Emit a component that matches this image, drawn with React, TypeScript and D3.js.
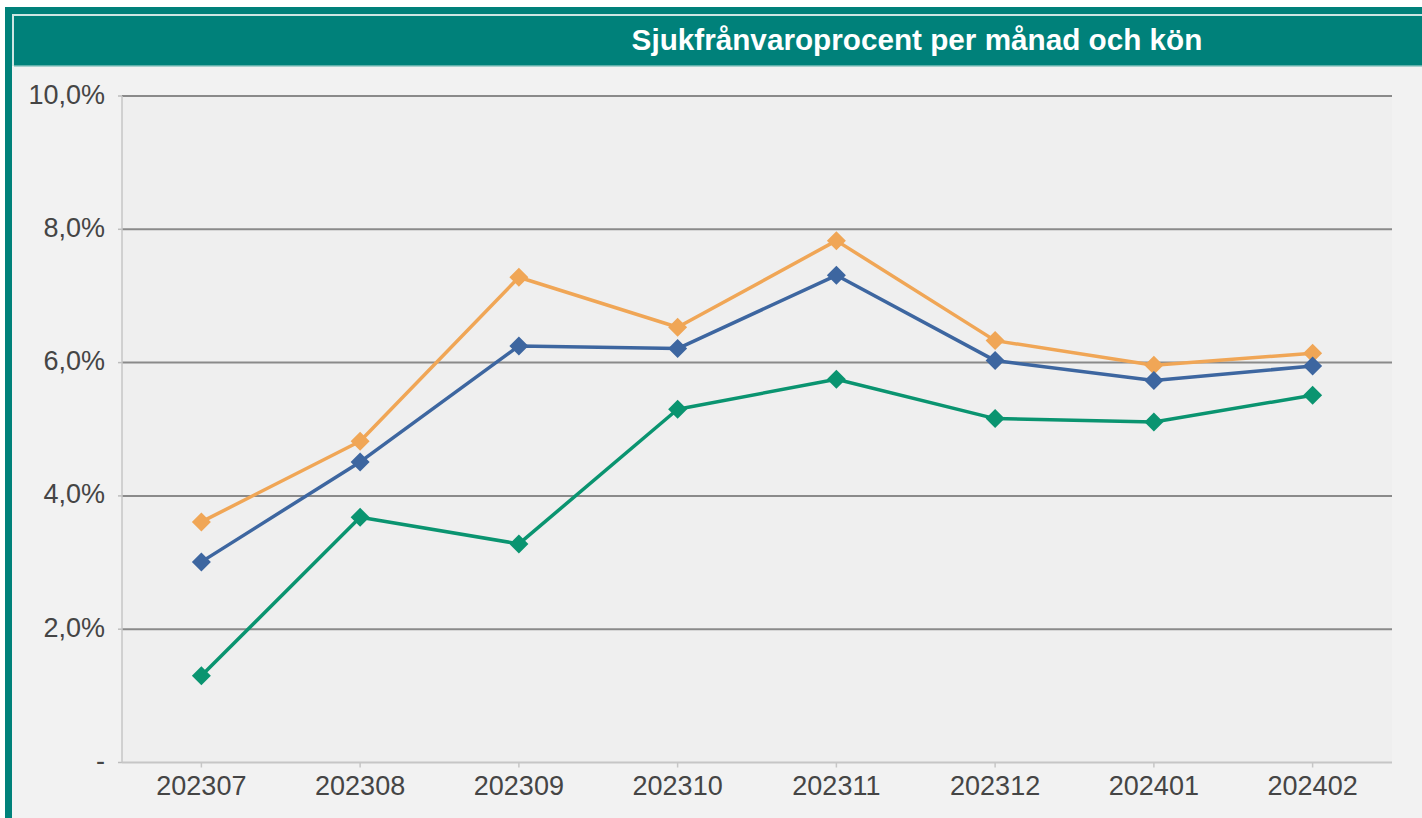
import React from "react";
import * as d3 from "d3";

const months = ["202307", "202308", "202309", "202310", "202311", "202312", "202401", "202402"];
const womenValues = [3.61, 4.82, 7.28, 6.53, 7.83, 6.33, 5.96, 6.14];
const totalValues = [3.01, 4.51, 6.25, 6.21, 7.31, 6.03, 5.73, 5.95];
const menValues = [1.3, 3.68, 3.28, 5.3, 5.75, 5.16, 5.11, 5.51];
const yTicks = [0, 2, 4, 6, 8, 10];
const title = "Sjukfrånvaroprocent per månad och kön";

const series = [
  { name: "Kvinnor", values: womenValues, color: "#f0a656" },
  { name: "Totalt", values: totalValues, color: "#3d66a0" },
  { name: "Män", values: menValues, color: "#0a9470" },
];

const W = 1422;
const H = 818;
const plot = { left: 122, right: 1392, top: 96, bottom: 762.5 };

export default function App() {
  const x = d3.scaleBand<string>().domain(months).range([plot.left, plot.right]);
  const y = d3.scaleLinear().domain([0, 10]).range([plot.bottom, plot.top]);
  const cx = (m: string) => (x(m) as number) + x.bandwidth() / 2;
  const line = d3
    .line<number>()
    .x((_, i) => cx(months[i]))
    .y((v) => y(v));
  const fmt = (v: number) => (v === 0 ? "-" : v.toFixed(1).replace(".", ",") + "%");
  const diamond = (px: number, py: number, r: number) =>
    `M${px},${py - r}L${px + r},${py}L${px},${py + r}L${px - r},${py}Z`;

  return (
    <svg
      width={W}
      height={H}
      style={{ position: "fixed", left: 0, top: 0, display: "block" }}
      fontFamily="'Liberation Sans', Arial, sans-serif"
    >
      <rect x={0} y={0} width={W} height={H} fill="#ffffff" />
      {/* outer frame */}
      <rect x={5} y={7} width={W - 5} height={H - 7} fill="#00817a" />
      <rect x={12} y={14} width={W - 12} height={H - 14} fill="#cfe6e3" />
      <rect x={12} y={66} width={W - 12} height={H - 66} fill="#f2f2f2" />
      {/* header */}
      <rect x={14} y={16} width={W - 14} height={50} fill="#00817a" />
      <rect x={14} y={65} width={W - 14} height={1.5} fill="#5fb0aa" />
      <text
        x={917}
        y={50}
        textAnchor="middle"
        fill="#ffffff"
        fontSize={29.7}
        fontWeight="bold"
      >
        {title}
      </text>
      {/* plot area */}
      <rect
        x={plot.left}
        y={plot.top}
        width={plot.right - plot.left}
        height={plot.bottom - plot.top}
        fill="#efefef"
      />
      {yTicks.map((t) => (
        <g key={t}>
          {t > 0 && (
            <line
              x1={plot.left}
              x2={plot.right}
              y1={y(t)}
              y2={y(t)}
              stroke="#8a8a8a"
              strokeWidth={2}
            />
          )}
          <line x1={plot.left - 4} x2={plot.left} y1={y(t)} y2={y(t)} stroke="#bdbdbd" strokeWidth={1.5} />
          <text
            x={105}
            y={y(t)}
            dy="0.28em"
            textAnchor="end"
            fill="#454545"
            fontSize={27}
          >
            {fmt(t)}
          </text>
        </g>
      ))}
      {/* axes */}
      <line x1={plot.left} x2={plot.left} y1={plot.top} y2={plot.bottom} stroke="#c6c6c6" strokeWidth={1.5} />
      <line x1={plot.left} x2={plot.right} y1={plot.bottom} y2={plot.bottom} stroke="#c6c6c6" strokeWidth={2} />
      {months.map((m) => (
        <g key={m}>
          <line x1={cx(m)} x2={cx(m)} y1={plot.bottom} y2={plot.bottom + 5} stroke="#c6c6c6" strokeWidth={1.5} />
          <text x={cx(m)} y={795} textAnchor="middle" fill="#454545" fontSize={27}>
            {m}
          </text>
        </g>
      ))}
      {/* series */}
      {series.map((s) => (
        <g key={s.name}>
          <path d={line(s.values) || ""} fill="none" stroke={s.color} strokeWidth={3.5} strokeLinejoin="round" />
          {s.values.map((v, i) => (
            <path key={i} d={diamond(cx(months[i]), y(v), 9.5)} fill={s.color} />
          ))}
        </g>
      ))}
    </svg>
  );
}
